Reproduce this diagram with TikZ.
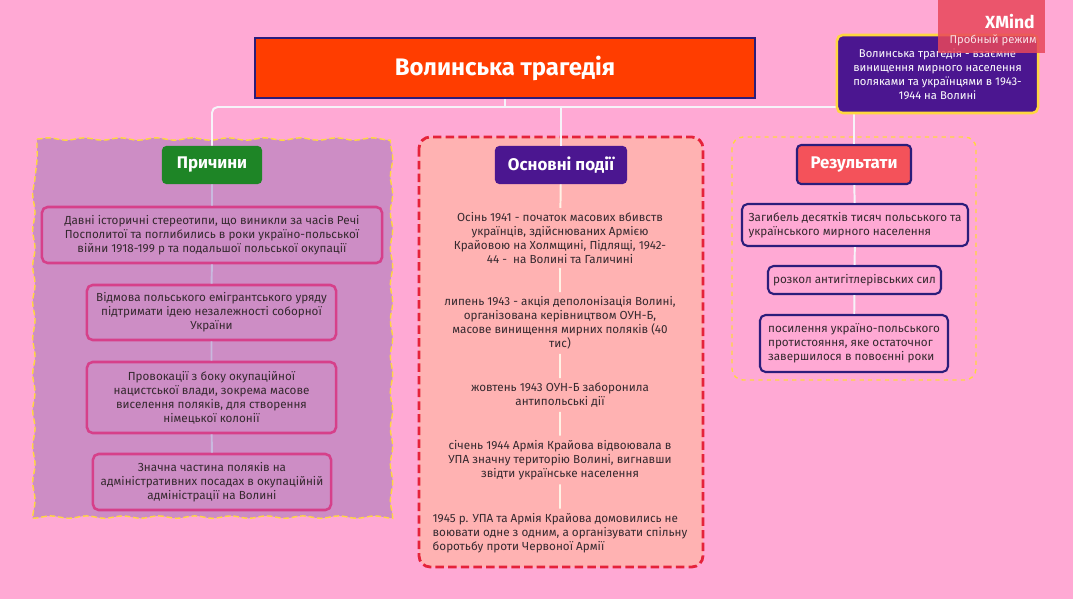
\documentclass[tikz,border=0pt]{standalone}
\usepackage{fontspec}
\setmainfont{Fira Sans}
\usetikzlibrary{positioning, decorations.pathmorphing}
\definecolor{bgpink}{HTML}{FFA9D4}
\definecolor{titlered}{HTML}{FF3D00}
\definecolor{navy}{HTML}{2B1D7B}
\definecolor{violet}{HTML}{4B1690}
\definecolor{sun}{HTML}{FFD740}
\definecolor{mauve}{HTML}{CD8DC5}
\definecolor{leaf}{HTML}{1E8526}
\definecolor{magenta}{HTML}{D6408A}
\definecolor{salmon}{HTML}{FFB2B2}
\definecolor{crimson}{HTML}{E5223A}
\definecolor{coral}{HTML}{F4525A}
\definecolor{ink}{HTML}{35292F}
\definecolor{markred}{HTML}{E8475A}
\tikzset{
  topic/.style   = {rounded corners=3pt, text=white, inner sep=0pt,
                    font=\fontsize{12}{14}\selectfont\bfseries, align=center},
  whybox/.style  = {draw=magenta, line width=1.8pt, rounded corners=4pt, fill=mauve,
                    text=ink, inner sep=0pt, minimum height=1.4cm,
                    font=\fontsize{8.3}{10}\selectfont, align=center},
  resbox/.style  = {draw=navy, line width=1.5pt, rounded corners=4pt, fill=bgpink,
                    text=ink, inner sep=0pt,
                    font=\fontsize{8.3}{10}\selectfont, align=left},
  evtext/.style  = {text=ink, inner sep=3pt,
                    font=\fontsize{8.3}{10}\selectfont, align=center},
  link/.style    = {draw=white!95!violet, line width=1.4pt},
}

\begin{document}
\begin{tikzpicture}[x=0.025cm, y=-0.025cm]
  \fill[bgpink] (0,0) rectangle (1073,599);

  % Frames of the three branches
  \draw[draw=sun, fill=mauve, line width=1pt, dash pattern=on 4pt off 2pt,
        decorate, decoration={snake, segment length=0.9cm, amplitude=0.03cm}]
    (37,139) -- (387,139) -- (387,516) -- (37,516) -- cycle;
  \draw[draw=crimson, fill=salmon, line width=2pt, dash pattern=on 6pt off 3pt,
        rounded corners=8pt] (419,137) rectangle (703,567);
  \draw[draw=sun, line width=1pt, dashed, rounded corners=8pt]
    (732,137) rectangle (976,380);

  % Central topic
  \node[fill=titlered, draw=navy, line width=2pt, text=white, minimum width=12.5cm,
        minimum height=1.5cm, font=\fontsize{17}{20}\selectfont\bfseries]
    (title) at (505,68) {Волинська трагедія};

  % Branch topics
  \node[topic, fill=leaf, minimum width=2.5cm, minimum height=0.95cm]
    (why) at (212,165) {Причини};
  \node[topic, fill=violet, minimum width=3.3cm, minimum height=0.95cm]
    (ev) at (561,165) {Основні події};
  \node[topic, fill=coral, draw=navy, line width=1.5pt, minimum width=2.85cm,
        minimum height=0.975cm] (res) at (854,164.5) {Результати};

  % Causes
  \node[whybox, minimum width=8.5cm] (c1) at (212,235)
    {Давні історичні стереотипи, що виникли за часів Речі\\Посполитої та поглибились в роки україно-польської\\війни 1918-199 р та подальшої польської окупації};
  \node[whybox, minimum width=6.225cm, minimum height=1.375cm] (c2) at (211.5,312.5)
    {Відмова польського емігрантського уряду\\підтримати ідею незалежності соборної\\України};
  \node[whybox, minimum width=6.225cm, minimum height=1.775cm] (c3) at (211.5,397.5)
    {Провокації з боку окупаційної\\нацистської влади, зокрема масове\\виселення поляків, для створення\\німецької колонії};
  \node[whybox, minimum width=5.95cm] (c4) at (212,482)
    {Значна частина поляків на\\адміністративних посадах в окупаційній\\адміністрації на Волині};

  % Events
  \node[evtext] (e1) at (560,238)
    {Осінь 1941 - початок масових вбивств\\українців, здійснюваних Армією\\Крайовою на Холмщині, Підлящі, 1942-\\44 -\ \ на Волині та Галичині};
  \node[evtext] (e2) at (560,323)
    {липень 1943 - акція деполонізація Волині,\\організована керівництвом ОУН-Б,\\масове винищення мирних поляків (40\\тис)};
  \node[evtext] (e3) at (560,395)
    {жовтень 1943 ОУН-Б заборонила\\антипольські дії};
  \node[evtext] (e4) at (560,460)
    {січень 1944 Армія Крайова відвоювала в\\УПА значну територію Волині, вигнавши\\звідти українське населення};
  \node[evtext, align=left] (e5) at (560,533)
    {1945 р. УПА та Армія Крайова домовились не\\воювати одне з одним, а організувати спільну\\боротьбу проти Червоної Армії};

  % Results
  \node[resbox, minimum width=5.65cm, minimum height=1.05cm] (r1) at (855,225)
    {Загибель десятків тисяч польського та\\українського мирного населення};
  \node[resbox, minimum width=4.325cm, minimum height=0.7cm] (r2) at (854.5,280)
    {розкол антигітлерівських сил};
  \node[resbox, minimum width=4.7cm, minimum height=1.425cm] (r3) at (854,343.5)
    {посилення україно-польського\\протистояння, яке остаточног\\завершилося в повоєнні роки};

  % Connectors
  \coordinate (hub) at (505,107);
  \draw[link] (title) -- (hub);
  \draw[link, rounded corners=4pt] (why) |- (hub) -| (res);
  \draw[link] (hub -| ev) -- (ev);
  \draw[link, draw=white!70!violet] (why) -- (c1) -- (c2) -- (c3) -- (c4);
  \draw[link, draw=white!90!orange] (ev) -- (e1) -- (e2) -- (e3) -- (e4) -- (e5);
  \draw[link] (res) -- (r1) -- (r2) -- (r3);

  % Summary
  \node[fill=violet, draw=sun, line width=1.8pt, rounded corners=4pt, text=white,
        minimum width=5.025cm, minimum height=1.95cm, inner sep=0pt, align=center,
        font=\fontsize{8}{10}\selectfont]
    (summary) at (937.5,74)
    {Волинська трагедія - взаємне\\винищення мирного населення\\поляками та українцями в 1943-\\1944 на Волині};

  % Trial mark
  \node[fill=markred, fill opacity=0.85, minimum width=2.675cm, minimum height=1.325cm,
        inner sep=0pt] (mark) at (991.5,26.5) {};
  \node[anchor=east, text=white, font=\fontsize{12.5}{14}\selectfont\bfseries, inner sep=0pt]
    (markname) at (1035,22) {XMind};
  \node[anchor=east, text=white!85!markred, font=\fontsize{8}{10}\selectfont, inner sep=0pt]
    (markmode) at (1037,40) {Пробный режим};
\end{tikzpicture}
\end{document}
